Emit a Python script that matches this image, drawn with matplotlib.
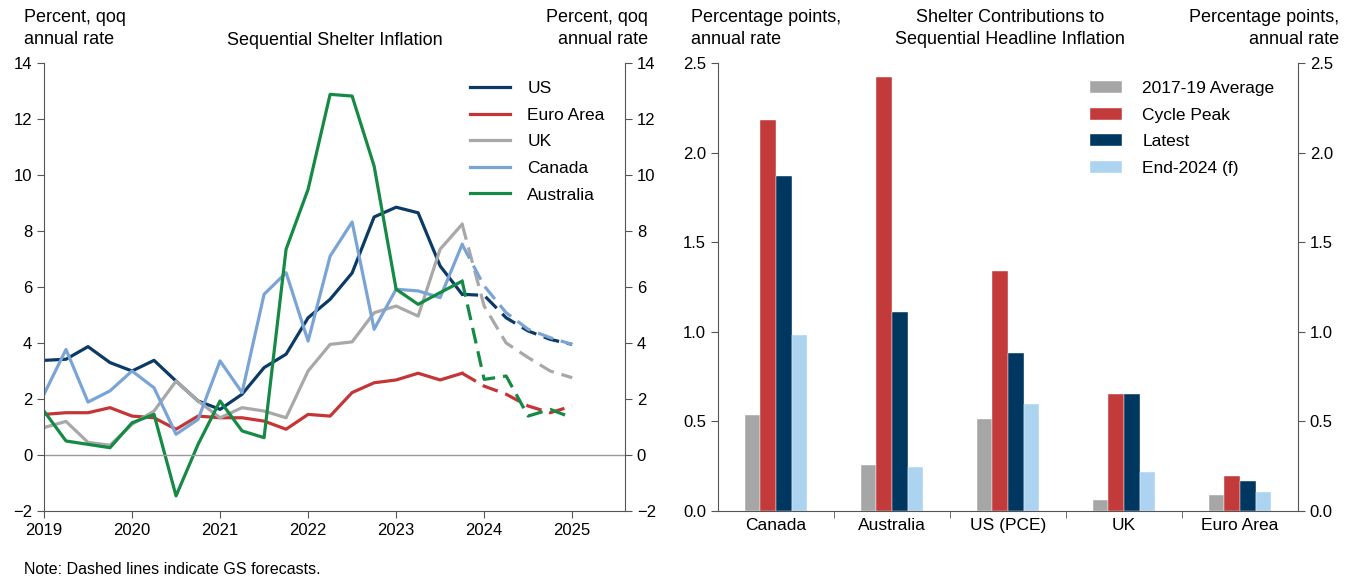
import numpy as np
import matplotlib
matplotlib.use('Agg')
import matplotlib.pyplot as plt

plt.rcParams['font.family'] = ['Liberation Sans', 'DejaVu Sans']
plt.rcParams['font.size'] = 12

# quarterly, 2019Q1 .. 2025Q1 (index 19 onwards are GS forecasts)
quarters = 2019 + np.arange(25) * 0.25
fc_start = 19

us = [3.38, 3.42, 3.87, 3.30, 3.00, 3.38, 2.64, 1.93, 1.63, 2.17, 3.12, 3.60, 4.90,
      5.56, 6.50, 8.50, 8.85, 8.65, 6.75, 5.74, 5.70, 4.90, 4.43, 4.13, 3.95]
euro_area = [1.45, 1.51, 1.51, 1.69, 1.39, 1.33, 0.92, 1.39, 1.33, 1.33, 1.21, 0.92, 1.45,
             1.39, 2.23, 2.58, 2.68, 2.92, 2.68, 2.92, 2.46, 2.17, 1.75, 1.51, 1.75]
uk = [0.98, 1.20, 0.45, 0.35, 1.10, 1.57, 2.64, 1.93, 1.33, 1.69, 1.57, 1.33, 3.00,
      3.95, 4.04, 5.08, 5.32, 4.96, 7.35, 8.24, 5.32, 4.00, 3.48, 3.00, 2.76]
canada = [2.17, 3.77, 1.89, 2.29, 3.00, 2.40, 0.74, 1.27, 3.36, 2.23, 5.74, 6.51, 4.07,
          7.10, 8.32, 4.49, 5.92, 5.86, 5.62, 7.52, 6.04, 5.08, 4.49, 4.19, 3.95]
australia = [1.57, 0.50, 0.38, 0.26, 1.15, 1.45, -1.46, 0.38, 1.93, 0.86, 0.62, 7.35, 9.49,
             12.88, 12.82, 10.32, 5.92, 5.38, 5.80, 6.21, 2.70, 2.82, 1.39, 1.63, 1.33]

line_names = ['US', 'Euro Area', 'UK', 'Canada', 'Australia']
line_colors = ['#0b3a67', '#c63536', '#a8a8a8', '#7ba4d6', '#158a45']

# bar chart
countries = ['Canada', 'Australia', 'US (PCE)', 'UK', 'Euro Area']
avg_2017_19 = [0.535, 0.258, 0.513, 0.061, 0.087]
cycle_peak = [2.18, 2.42, 1.34, 0.652, 0.193]
latest = [1.872, 1.11, 0.881, 0.652, 0.169]
end_2024 = [0.98, 0.243, 0.595, 0.217, 0.104]

bar_names = ['2017-19 Average', 'Cycle Peak', 'Latest', 'End-2024 (f)']
bar_colors = ['#a6a6a6', '#c23b3a', '#003760', '#acd3f0']

spine_col = '#555555'
txt_size = 13

W, H = 1348, 577
fig = plt.figure(figsize=(W / 100, H / 100), dpi=100)


def px_axes(x0, x1, y0, y1):
    return fig.add_axes([x0 / W, 1 - y1 / H, (x1 - x0) / W, (y1 - y0) / H])


def style_axes(ax):
    ax.spines['top'].set_visible(False)
    for s in ['left', 'right', 'bottom']:
        ax.spines[s].set_color(spine_col)
    ax.tick_params(colors=spine_col, labelcolor='black', direction='out', length=5,
                   labelsize=12)


# ---- left: lines ----
ax1 = px_axes(44, 625, 63, 511)
series = [us, euro_area, uk, canada, australia]
for vals, name, col in zip(series, line_names, line_colors):
    ax1.plot(quarters[:fc_start + 1], vals[:fc_start + 1], color=col, lw=2.3, label=name)
    ax1.plot(quarters[fc_start:], vals[fc_start:], color=col, lw=2.3, dashes=(5, 2.5))
ax1.axhline(0, color='#999999', lw=1)
ax1.set_xlim(2019, 2025.6)
ax1.set_ylim(-2, 14)
ax1.set_xticks(range(2019, 2026))
ax1.set_yticks(range(-2, 15, 2))
ax1.yaxis.set_ticks_position('both')
ax1.tick_params(axis='y', labelright=True)
style_axes(ax1)
ax1.legend(loc='upper left', bbox_to_anchor=(0.733, 0.96), frameon=False,
           borderaxespad=0, borderpad=0, handlelength=2.3, handletextpad=1.0,
           labelspacing=0.66, fontsize=12.5)

# ---- right: bars ----
ax2 = px_axes(718, 1298, 63, 511)
x = np.arange(len(countries))
bw = 0.135
for i, (vals, name, col) in enumerate(zip([avg_2017_19, cycle_peak, latest, end_2024],
                                          bar_names, bar_colors)):
    ax2.bar(x + (i - 1.5) * bw, vals, width=bw, color=col, label=name,
            edgecolor='white', linewidth=0.3)
ax2.set_xlim(-0.5, len(countries) - 0.5)
ax2.set_ylim(0, 2.5)
ax2.set_yticks(np.arange(0, 2.51, 0.5))
ax2.set_yticklabels([f'{v:.1f}' for v in np.arange(0, 2.51, 0.5)])
ax2.yaxis.set_ticks_position('both')
ax2.tick_params(axis='y', labelright=True)
ax2.set_xticks(x)
ax2.set_xticklabels(countries)
ax2.set_xticks(np.arange(0.5, len(countries) - 1, 1), minor=True)
style_axes(ax2)
ax2.tick_params(axis='x', which='major', length=0, pad=5, labelsize=12.5)
ax2.tick_params(axis='x', which='minor', length=5, color=spine_col)
ax2.legend(loc='upper left', bbox_to_anchor=(0.6415, 0.96), frameon=False,
           borderaxespad=0, borderpad=0, handlelength=1.85, handleheight=0.7,
           handletextpad=1.15, labelspacing=0.66, fontsize=12.5)

# ---- header texts ----
hdr = dict(va='top', fontsize=txt_size, linespacing=1.4)
fig.text(24 / W, 1 - 9 / H, 'Percent, qoq\nannual rate', ha='left', **hdr)
fig.text(335 / W, 1 - 32 / H, 'Sequential Shelter Inflation', ha='center', **hdr)
fig.text(648 / W, 1 - 9 / H, 'Percent, qoq\nannual rate', ha='right', **hdr)
fig.text(691 / W, 1 - 9 / H, 'Percentage points,\nannual rate', ha='left', **hdr)
fig.text(1010 / W, 1 - 9 / H, 'Shelter Contributions to\nSequential Headline Inflation',
         ha='center', **hdr)
fig.text(1339 / W, 1 - 9 / H, 'Percentage points,\nannual rate', ha='right', **hdr)

fig.text(24 / W, 1 - 570 / H, 'Note: Dashed lines indicate GS forecasts.', ha='left',
         va='center', fontsize=11.5)

fig.savefig('out.png', dpi=100)
